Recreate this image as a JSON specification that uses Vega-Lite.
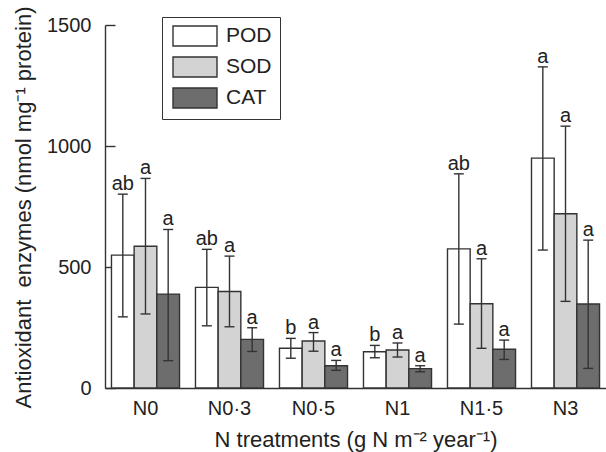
{
  "$schema": "https://vega.github.io/schema/vega-lite/v6.json",
  "width": 501,
  "height": 363,
  "autosize": {"type": "none"},
  "padding": {"left": 105, "top": 25, "right": 0, "bottom": 64},
  "background": "white",
  "config": {
    "view": {"stroke": null},
    "font": "Liberation Sans",
    "axis": {
      "domainColor": "#333333",
      "domainWidth": 1.4,
      "tickColor": "#333333",
      "tickWidth": 1.4,
      "grid": false,
      "labelFont": "Liberation Sans",
      "labelFontSize": 20,
      "labelColor": "#222222",
      "titleFont": "Liberation Sans",
      "titleFontSize": 22,
      "titleFontWeight": "normal",
      "titleColor": "#222222"
    },
    "legend": {
      "labelFont": "Liberation Sans",
      "labelFontSize": 21,
      "labelColor": "#222222"
    }
  },
  "data": {
    "values": [
      {"group": "N0", "enzyme": "POD", "mean": 549, "lo": 294, "hi": 801, "letter": "ab"},
      {"group": "N0", "enzyme": "SOD", "mean": 586, "lo": 306, "hi": 866, "letter": "a"},
      {"group": "N0", "enzyme": "CAT", "mean": 388, "lo": 113, "hi": 655, "letter": "a"},
      {"group": "N0·3", "enzyme": "POD", "mean": 416, "lo": 257, "hi": 573, "letter": "ab"},
      {"group": "N0·3", "enzyme": "SOD", "mean": 399, "lo": 253, "hi": 545, "letter": "a"},
      {"group": "N0·3", "enzyme": "CAT", "mean": 201, "lo": 151, "hi": 249, "letter": "a"},
      {"group": "N0·5", "enzyme": "POD", "mean": 164, "lo": 123, "hi": 205, "letter": "b"},
      {"group": "N0·5", "enzyme": "SOD", "mean": 194, "lo": 152, "hi": 229, "letter": "a"},
      {"group": "N0·5", "enzyme": "CAT", "mean": 92, "lo": 73, "hi": 114, "letter": "a"},
      {"group": "N1", "enzyme": "POD", "mean": 150, "lo": 125, "hi": 176, "letter": "b"},
      {"group": "N1", "enzyme": "SOD", "mean": 157, "lo": 128, "hi": 186, "letter": "a"},
      {"group": "N1", "enzyme": "CAT", "mean": 80, "lo": 67, "hi": 92, "letter": "a"},
      {"group": "N1·5", "enzyme": "POD", "mean": 575, "lo": 264, "hi": 885, "letter": "ab"},
      {"group": "N1·5", "enzyme": "SOD", "mean": 348, "lo": 164, "hi": 534, "letter": "a"},
      {"group": "N1·5", "enzyme": "CAT", "mean": 160, "lo": 118, "hi": 198, "letter": "a"},
      {"group": "N3", "enzyme": "POD", "mean": 950, "lo": 570, "hi": 1327, "letter": "a"},
      {"group": "N3", "enzyme": "SOD", "mean": 720, "lo": 358, "hi": 1082, "letter": "a"},
      {"group": "N3", "enzyme": "CAT", "mean": 347, "lo": 81, "hi": 611, "letter": "a"}
    ]
  },
  "encoding": {
    "x": {
      "field": "group",
      "type": "nominal",
      "sort": ["N0", "N0·3", "N0·5", "N1", "N1·5", "N3"],
      "scale": {"paddingInner": 0.19, "paddingOuter": 0.077},
      "axis": {
        "title": "N treatments (g N m⁻² year⁻¹)",
        "labelAngle": 0,
        "tickSize": -10,
        "labelPadding": 20,
        "labelBaseline": "top",
        "titleY": 58,
        "titleBaseline": "alphabetic"
      }
    },
    "xOffset": {
      "field": "enzyme",
      "type": "nominal",
      "sort": ["POD", "SOD", "CAT"],
      "scale": {"paddingInner": 0, "paddingOuter": 0}
    }
  },
  "layer": [
    {
      "mark": {"type": "bar", "stroke": "#333333", "strokeWidth": 1.4},
      "encoding": {
        "y": {
          "field": "mean",
          "type": "quantitative",
          "scale": {"domain": [0, 1500], "nice": false},
          "axis": {
            "values": [0, 500, 1000, 1500],
            "format": "d",
            "title": "Antioxidant\u00a0 enzymes (nmol mg⁻¹ protein)",
            "tickSize": -10,
            "labelPadding": 24,
            "titleAngle": -90,
            "titleX": -82,
            "titleY": 182,
            "titleAlign": "center",
            "titleBaseline": "middle"
          }
        },
        "fill": {
          "field": "enzyme",
          "type": "nominal",
          "scale": {"domain": ["POD", "SOD", "CAT"], "range": ["#ffffff", "#d3d3d3", "#6d6d6d"]},
          "legend": {
            "title": null,
            "orient": "none",
            "legendX": 57,
            "legendY": -8,
            "strokeColor": "#333333",
            "padding": 8,
            "symbolType": "M-2.2,-1H2.2V1H-2.2Z",
            "symbolSize": 400,
            "symbolStrokeColor": "#333333",
            "symbolStrokeWidth": 1.4,
            "symbolOpacity": 1,
            "symbolOffset": 14,
            "labelOffset": 20,
            "rowPadding": 5
          }
        }
      }
    },
    {
      "mark": {"type": "rule", "color": "#333333", "strokeWidth": 1.4},
      "encoding": {
        "y": {"field": "lo", "type": "quantitative"},
        "y2": {"field": "hi"}
      }
    },
    {
      "mark": {"type": "tick", "orient": "horizontal", "color": "#333333", "size": 10, "thickness": 1.4, "opacity": 1},
      "encoding": {"y": {"field": "lo", "type": "quantitative"}}
    },
    {
      "mark": {"type": "tick", "orient": "horizontal", "color": "#333333", "size": 10, "thickness": 1.4, "opacity": 1},
      "encoding": {"y": {"field": "hi", "type": "quantitative"}}
    },
    {
      "mark": {"type": "text", "baseline": "alphabetic", "dy": -4, "fontSize": 20, "color": "#222222"},
      "encoding": {
        "y": {"field": "hi", "type": "quantitative"},
        "text": {"field": "letter"}
      }
    }
  ]
}
